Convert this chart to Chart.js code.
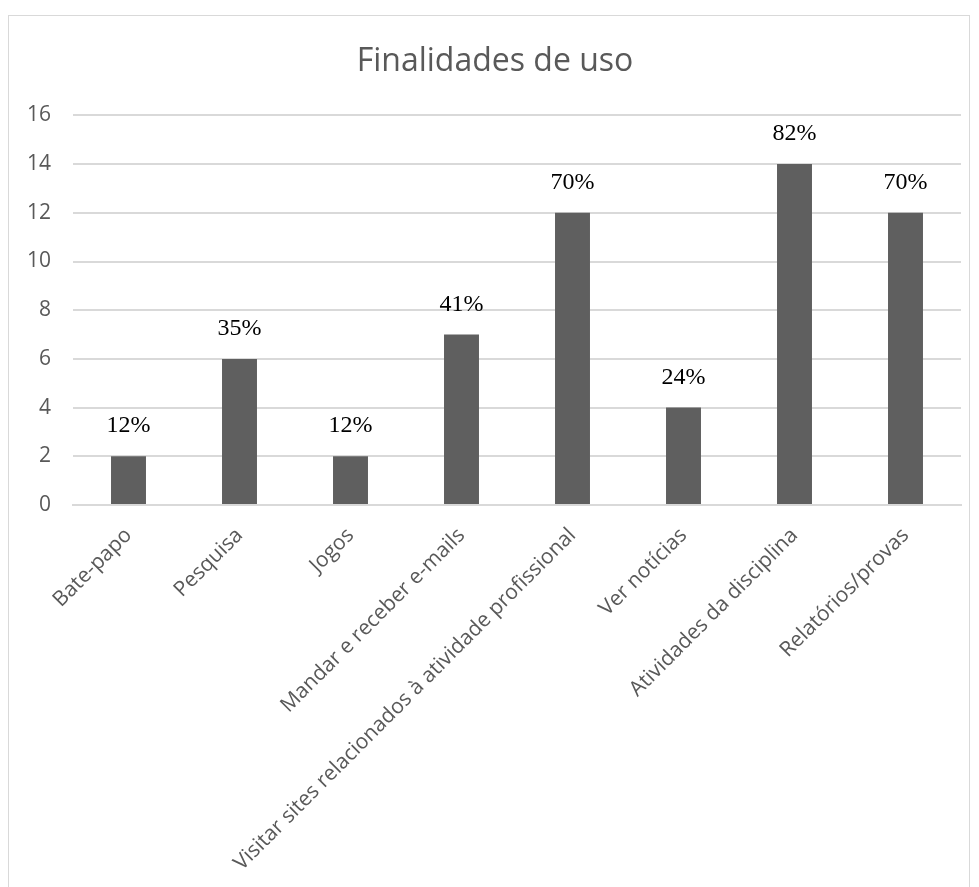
<!DOCTYPE html>
<html lang="pt">
<head>
    <meta charset="UTF-8">
    <title>Finalidades de uso</title>
    <script src="https://cdn.jsdelivr.net/npm/chart.js"></script>
    <style>
        body { margin: 0; background: #fff; }
        .box {
            position: absolute; left: 8px; top: 15px;
            width: 962px; height: 890px;
            border: 1px solid #d9d9d9; box-sizing: border-box;
        }
        canvas { display: block; }
    </style>
</head>
<body>
    <div class="box"><canvas id="chart" width="960" height="888"></canvas></div>

    <script>
        const categories = ['Bate-papo', 'Pesquisa', 'Jogos', 'Mandar e receber e-mails',
            'Visitar sites relacionados à atividade profissional', 'Ver notícias',
            'Atividades da disciplina', 'Relatórios/provas'];
        const counts = [2, 6, 2, 7, 12, 4, 14, 12];
        const percentLabels = ['12%', '35%', '12%', '41%', '70%', '24%', '82%', '70%'];
        const yTicks = [0, 2, 4, 6, 8, 10, 12, 14, 16];

        // draws the percentage above each bar
        const barLabels = {
            id: 'barLabels',
            afterDatasetsDraw(chart) {
                const ctx = chart.ctx;
                const meta = chart.getDatasetMeta(0);
                ctx.save();
                ctx.font = '24px "Liberation Serif", "Times New Roman", serif';
                ctx.fillStyle = '#000';
                ctx.textAlign = 'center';
                ctx.textBaseline = 'alphabetic';
                meta.data.forEach((bar, i) => {
                    ctx.fillText(percentLabels[i], bar.x, bar.y - 24);
                });
                ctx.restore();
            }
        };

        new Chart(document.getElementById('chart'), {
            type: 'bar',
            data: {
                labels: categories,
                datasets: [{
                    data: counts,
                    backgroundColor: '#5f5f5f',
                    borderWidth: 0,
                    barPercentage: 0.315,
                    categoryPercentage: 1
                }]
            },
            options: {
                responsive: false,
                animation: false,
                layout: { padding: { left: 20, right: 8, top: 0, bottom: 0 } },
                plugins: {
                    legend: { display: false },
                    tooltip: { enabled: false },
                    title: {
                        display: true,
                        text: 'Finalidades de uso',
                        color: '#595959',
                        font: { family: '"Open Sans", sans-serif', size: 32, weight: 'normal' },
                        padding: { top: 27, bottom: 34 }
                    }
                },
                scales: {
                    x: {
                        grid: { display: false },
                        border: { color: '#d9d9d9', width: 2 },
                        ticks: {
                            color: '#595959',
                            font: { family: '"Open Sans", sans-serif', size: 21 },
                            minRotation: 45,
                            maxRotation: 45,
                            autoSkip: false,
                            padding: 10
                        },
                        afterFit(scale) { scale.height = 399; }
                    },
                    y: {
                        min: 0,
                        max: 16,
                        afterBuildTicks(scale) { scale.ticks = yTicks.map(v => ({ value: v })); },
                        grid: { color: '#d9d9d9', lineWidth: 2, drawTicks: false },
                        border: { display: false },
                        ticks: {
                            color: '#595959',
                            font: { family: '"Open Sans", sans-serif', size: 21 },
                            padding: 22
                        },
                        afterFit(scale) { scale.width = 44; }
                    }
                }
            },
            plugins: [barLabels]
        });
    </script>
</body>
</html>
